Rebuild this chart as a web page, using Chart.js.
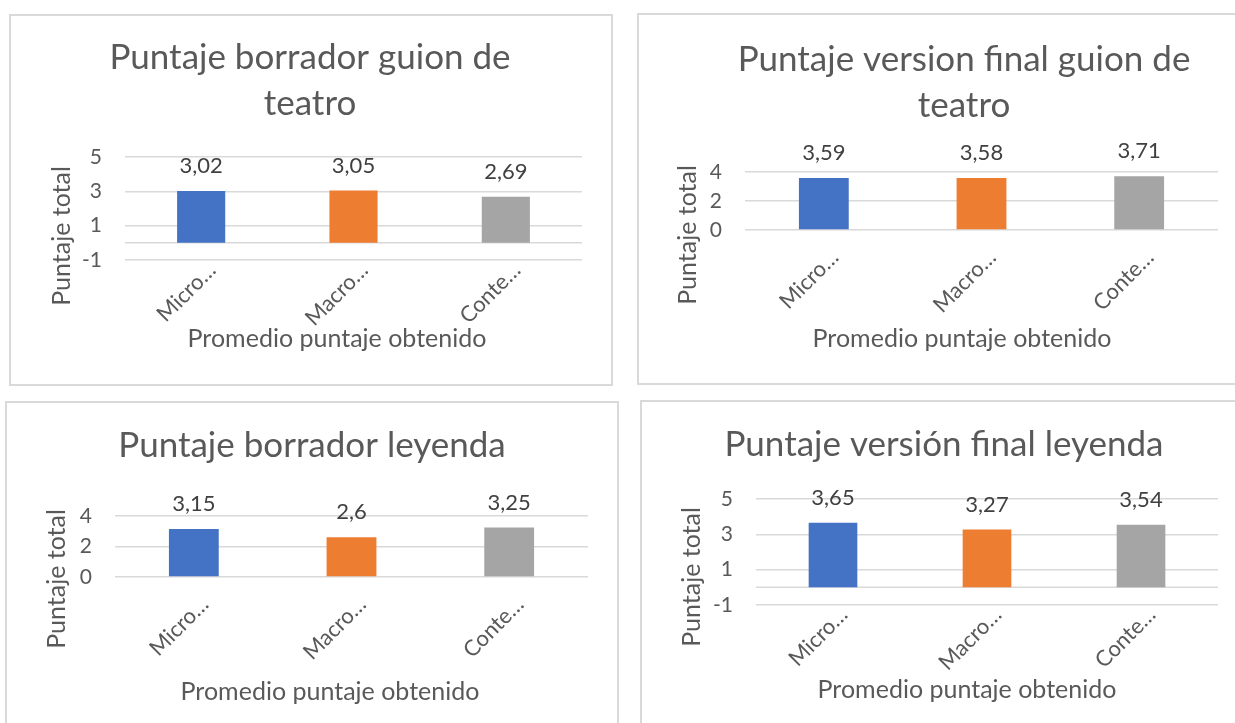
<!DOCTYPE html>
<html>
<head>
<meta charset="utf-8">
<title>Puntajes guion de teatro y leyenda</title>
<script src="https://cdn.jsdelivr.net/npm/chart.js@4.4.1/dist/chart.umd.min.js"></script>
<style>
  html, body { margin: 0; padding: 0; background: #fff; }
  body { position: relative; width: 1235px; height: 723px; overflow: hidden; }
  .panel { position: absolute; box-sizing: border-box; border: 2px solid #d9d9d9; background: #fff; }
  .panel canvas { position: absolute; left: 0; top: 0; }
</style>
</head>
<body>
<div class="panel" id="p1"><canvas id="c1"></canvas></div>
<div class="panel" id="p2"><canvas id="c2"></canvas></div>
<div class="panel" id="p3"><canvas id="c3"></canvas></div>
<div class="panel" id="p4"><canvas id="c4"></canvas></div>
<script>
// --- data ---
const categories = ['Micro…', 'Macro…', 'Conte…'];
const barColors = ['#4472C4', '#ED7D31', '#A5A5A5'];

const borradorGuion = [3.02, 3.05, 2.69];
const finalGuion = [3.59, 3.58, 3.71];
const borradorLeyenda = [3.15, 2.6, 3.25];
const finalLeyenda = [3.65, 3.27, 3.54];

const ticksNeg = [-1, 1, 3, 5];
const ticksPos = [0, 2, 4];

const yAxisTitle = 'Puntaje total';
const xAxisTitle = 'Promedio puntaje obtenido';

// --- look ---
const FONT = 'Lato';
const TEXT = '#595959';
const LABEL = '#404040';
const GRID = '#d9d9d9';
const PAGE_W = 1235, PAGE_H = 723;

// frame [left, top, width, height], plot [left, top, right, bottom], text anchors, all page px
const layouts = {
    p1: { frame: [9, 14, 604, 372], plot: [125, 157, 582, 260], titleX: 310, titleY: [69, 115], yTitle: [62, 236], xTitle: [337, 347] },
    p2: { frame: [637, 13, 700, 372], plot: [745, 172, 1218, 230], titleX: 964, titleY: [71, 117], yTitle: [688, 235], xTitle: [962, 347] },
    p3: { frame: [5, 401, 614, 400], plot: [115, 516, 588, 577], titleX: 312, titleY: [457], yTitle: [57, 579], xTitle: [330, 700] },
    p4: { frame: [640, 400, 700, 400], plot: [756, 499, 1218, 605], titleX: 944, titleY: [456], yTitle: [692, 577], xTitle: [967, 698] }
};

// draws zero line, value labels, chart title and axis titles
const panelText = {
    id: 'panelText',
    beforeDatasetsDraw(chart, args, opts) {
        const y = chart.scales.y;
        if (y.min >= 0) return;
        const ctx = chart.ctx;
        const zero = y.getPixelForValue(0);
        ctx.save();
        ctx.strokeStyle = GRID;
        ctx.lineWidth = 1.5;
        ctx.beginPath();
        ctx.moveTo(chart.chartArea.left, zero);
        ctx.lineTo(chart.chartArea.right, zero);
        ctx.stroke();
        ctx.restore();
    },
    afterDatasetsDraw(chart, args, opts) {
        const ctx = chart.ctx;
        const values = chart.data.datasets[0].data;
        ctx.save();

        // value labels above the bars
        ctx.font = `22px ${FONT}`;
        ctx.fillStyle = LABEL;
        ctx.textAlign = 'center';
        ctx.textBaseline = 'middle';
        chart.getDatasetMeta(0).data.forEach((bar, i) => {
            ctx.fillText(String(values[i]).replace('.', ','), bar.x, bar.y - 25);
        });

        // chart title
        ctx.font = `35px ${FONT}`;
        ctx.fillStyle = TEXT;
        ctx.textBaseline = 'alphabetic';
        opts.title.forEach((line, i) => {
            ctx.fillText(line, opts.titleX - opts.ox, opts.titleY[i] - opts.oy);
        });

        // x axis title
        ctx.font = `25px ${FONT}`;
        ctx.fillText(xAxisTitle, opts.xTitle[0] - opts.ox, opts.xTitle[1] - opts.oy);

        // y axis title
        ctx.translate(opts.yTitle[0] - opts.ox, opts.yTitle[1] - opts.oy);
        ctx.rotate(-Math.PI / 2);
        ctx.textBaseline = 'middle';
        ctx.fillText(yAxisTitle, 0, 0);
        ctx.restore();
    }
};

function makeChart(id, canvasId, title, values, ticks) {
    const lay = layouts[id];
    const panel = document.getElementById(id);
    const [fl, ft, fw, fh] = lay.frame;
    panel.style.left = fl + 'px';
    panel.style.top = ft + 'px';
    panel.style.width = fw + 'px';
    panel.style.height = fh + 'px';

    const ox = fl + 2, oy = ft + 2;
    const cw = Math.min(fw - 4, PAGE_W - ox);
    const ch = Math.min(fh - 4, PAGE_H - oy);
    const canvas = document.getElementById(canvasId);
    canvas.width = cw;
    canvas.height = ch;

    const [pl, pt, pr, pb] = lay.plot;
    const min = ticks[0], max = ticks[ticks.length - 1];
    const zeroY = pb - (0 - min) / (max - min) * (pb - pt);

    return new Chart(canvas, {
        type: 'bar',
        data: {
            labels: categories,
            datasets: [{
                data: values,
                backgroundColor: barColors,
                barPercentage: 0.316,
                categoryPercentage: 1
            }]
        },
        plugins: [panelText],
        options: {
            responsive: false,
            animation: false,
            layout: { padding: { left: 0, top: pt - oy, right: cw - (pr - ox), bottom: 0 } },
            plugins: {
                legend: { display: false },
                tooltip: { enabled: false },
                title: { display: false },
                panelText: { ox, oy, title, titleX: lay.titleX, titleY: lay.titleY, yTitle: lay.yTitle, xTitle: lay.xTitle }
            },
            scales: {
                x: {
                    grid: { display: false },
                    border: { display: false },
                    ticks: {
                        minRotation: 45,
                        maxRotation: 45,
                        autoSkip: false,
                        labelOffset: 11,
                        padding: zeroY - pb + 6.5,
                        color: TEXT,
                        font: { family: FONT, size: 22 }
                    },
                    afterFit: (scale) => { scale.height = ch - (pb - oy); }
                },
                y: {
                    min: min,
                    max: max,
                    grid: { color: GRID, lineWidth: 1.5, drawTicks: false },
                    border: { display: false },
                    ticks: {
                        stepSize: ticks[1] - ticks[0],
                        padding: 23,
                        color: TEXT,
                        font: { family: FONT, size: 21 },
                        callback: (v) => String(v)
                    },
                    afterFit: (scale) => { scale.width = pl - ox; }
                }
            }
        }
    });
}

makeChart('p1', 'c1', ['Puntaje borrador guion de', 'teatro'], borradorGuion, ticksNeg);
makeChart('p2', 'c2', ['Puntaje version final guion de', 'teatro'], finalGuion, ticksPos);
makeChart('p3', 'c3', ['Puntaje borrador leyenda'], borradorLeyenda, ticksPos);
makeChart('p4', 'c4', ['Puntaje versión final leyenda'], finalLeyenda, ticksNeg);
</script>
</body>
</html>
